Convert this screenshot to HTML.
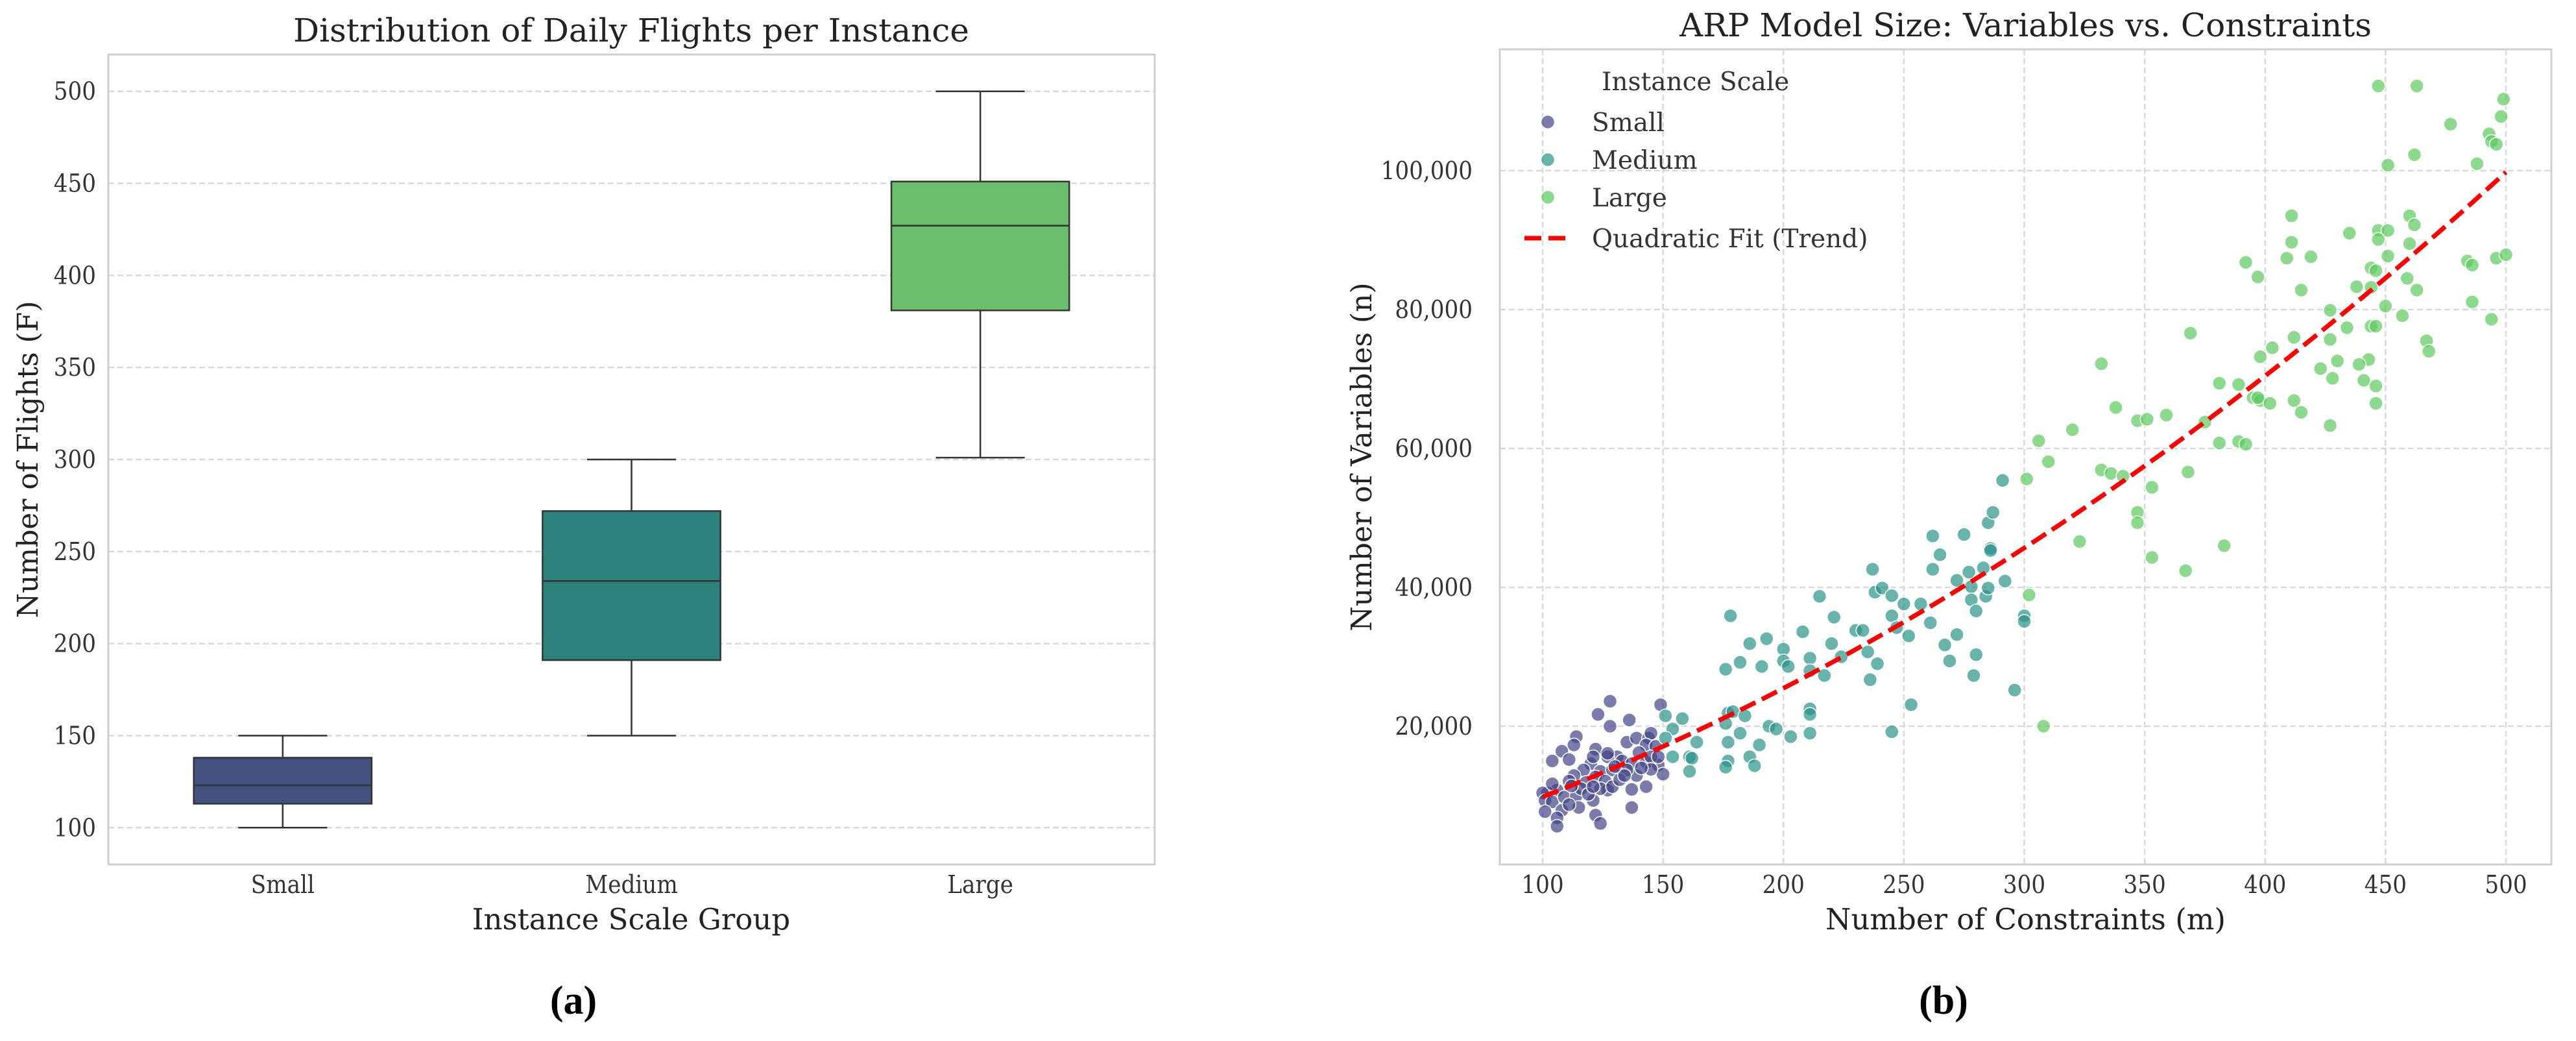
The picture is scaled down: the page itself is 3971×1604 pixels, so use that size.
<!DOCTYPE html>
<html><head><meta charset="utf-8"><style>
html,body{margin:0;padding:0;background:#fff;}
svg{display:block;font-family:"DejaVu Serif Condensed","DejaVu Serif",serif;font-stretch:condensed;}
.wide{font-family:"DejaVu Serif",serif;font-stretch:normal;}
.lab{font-family:"Liberation Serif",serif;font-stretch:normal;}
</style></head><body>
<svg id="fig" width="3971" height="1604" viewBox="0 0 3971 1604" xmlns="http://www.w3.org/2000/svg">
<rect x="0" y="0" width="3971" height="1604" fill="#fff"/>
<g id="left"></g>
<g id="right"></g>
</svg>
<script>
// ---- Box plot data ----
const boxCats = ["Small","Medium","Large"];
const boxMin = [100,150,301];
const boxQ1 = [113,191,381];
const boxMed = [123,234,427];
const boxQ3 = [138,272,451];
const boxMax = [150,300,500];
const boxColors = ["#42517f","#2c837d","#6abd6a"];
const boxYTicks = [100,150,200,250,300,350,400,450,500];

// ---- Scatter data ----
const smallX = [128,149,123,136,128,114,113,108,111,104,135,139,144,145,143,147,140,131,127,122,120,117,113,124,129,133,137,143,148,150,139,135,145,148,118,122,126,127,124,111,106,102,100,101,104,109,114,115,108,106,106,101,122,124,121,129,137,137,143,132,116,112,104,111,119,121,134,145,141,130,127,121];
const smallY = [23600,23100,21700,20900,20000,18500,17300,16400,15200,15000,17700,18300,18300,19000,17300,17100,16200,15600,15600,16700,14600,13700,12900,13500,13700,15000,14600,14800,14400,13100,12900,13700,15600,15600,11900,12700,12100,10800,11000,12100,10800,10400,10400,9300,9100,9800,10000,8300,7900,6800,5600,7700,7200,6000,9300,11300,10900,8300,11300,12300,11000,11400,11700,8700,10200,11300,12900,13800,14000,14200,16100,15600];
const medX = [178,176,182,186,191,193,200,200,202,208,215,211,211,220,221,224,217,230,233,235,237,238,241,239,236,245,245,250,247,252,257,253,245,262,262,265,261,267,269,272,272,275,277,278,278,280,279,280,283,284,285,285,286,286,287,291,292,296,300,300,151,158,154,164,161,162,161,151,154,177,179,176,177,177,176,184,182,186,188,190,194,197,203,211,211,211];
const medY = [35900,28200,29200,31900,28600,32600,31100,29400,28600,33600,38700,29800,28000,31900,35700,30000,27300,33800,33800,30700,42600,39300,39900,29000,26700,35900,38800,37600,34200,33000,37600,23100,19200,47400,42600,44700,34900,31700,29400,41000,33200,47600,42200,40100,38200,36600,27300,30300,42800,38700,39900,49300,45600,45300,50800,55400,40900,25200,35900,35100,21500,21100,19600,17700,15600,15400,13500,18300,15600,21900,22100,20400,17700,15000,14100,21500,19000,15600,14300,17300,20000,19600,18500,22500,21700,19000];
const largeX = [447,463,499,498,477,493,494,496,462,451,488,411,460,435,447,451,462,411,447,460,409,419,451,392,484,486,496,500,397,444,446,459,415,438,444,463,486,427,450,457,494,444,446,434,369,412,427,467,468,403,398,430,443,332,439,423,428,441,381,389,446,395,398,397,402,412,446,338,415,359,347,351,375,427,320,306,381,389,392,310,332,336,341,301,368,353,347,347,323,383,353,367,302,308];
const largeY = [112200,112200,110300,107800,106700,105300,104200,103800,102300,100800,101000,93500,93500,91000,91400,91400,92200,89700,90100,89500,87400,87600,87700,86800,87000,86400,87400,87900,84700,86000,85600,84500,82800,83300,83200,82800,81100,79900,80500,79100,78600,77600,77600,77400,76600,76000,75700,75500,74000,74500,73200,72600,72800,72200,72100,71500,70100,69800,69400,69200,69000,67300,66900,67300,66500,66900,66500,65900,65200,64800,64000,64200,63800,63300,62700,61100,60800,61000,60600,58100,56900,56400,56000,55600,56600,54400,50800,49300,46600,46000,44300,42400,38900,20000];
const scXTicks = [100,150,200,250,300,350,400,450,500];
const scYTicks = [20000,40000,60000,80000,100000];

const NS = "http://www.w3.org/2000/svg";
function mk(parent, tag, attrs, text){
  const e = document.createElementNS(NS, tag);
  for (const k in attrs) e.setAttribute(k, attrs[k]);
  if (text !== undefined) e.textContent = text;
  parent.appendChild(e);
  return e;
}
const L = document.getElementById('left');
const R = document.getElementById('right');
const TF = 38;

// ===== Left panel =====
const lx0=167, lx1=1780, ly0=84, ly1=1332;
const lyMin=80, lyMax=520;
function ly(v){ return ly1 - (v-lyMin)/(lyMax-lyMin)*(ly1-ly0); }
function lx(i){ return lx0 + (i+0.5)*(lx1-lx0)/boxCats.length; }
boxYTicks.forEach(t=>{
  const g = mk(L,'line',{x1:lx0,x2:lx1,y1:ly(t),y2:ly(t),stroke:'#d9d9d9','stroke-width':2.5,'stroke-dasharray':'9,5'});
  
  
  const tl = mk(L,'text',{x:148,y:ly(t)+13,'text-anchor':'end','font-size':TF,fill:'#333'},String(t));
  
  
});
const lframe = mk(L,'rect',{x:lx0,y:ly0,width:lx1-lx0,height:ly1-ly0,fill:'none',stroke:'#cfcfcf','stroke-width':3});


const bw = 0.51*(lx1-lx0)/boxCats.length;
boxCats.forEach((c,i)=>{
  const cx = lx(i);
  const g = mk(L,'g',{});
  
  
  mk(g,'line',{x1:cx,x2:cx,y1:ly(boxMax[i]),y2:ly(boxQ3[i]),stroke:'#333','stroke-width':2.5});
  mk(g,'line',{x1:cx,x2:cx,y1:ly(boxQ1[i]),y2:ly(boxMin[i]),stroke:'#333','stroke-width':2.5});
  mk(g,'line',{x1:cx-bw/4,x2:cx+bw/4,y1:ly(boxMax[i]),y2:ly(boxMax[i]),stroke:'#333','stroke-width':2.5});
  mk(g,'line',{x1:cx-bw/4,x2:cx+bw/4,y1:ly(boxMin[i]),y2:ly(boxMin[i]),stroke:'#333','stroke-width':2.5});
  mk(g,'rect',{x:cx-bw/2,y:ly(boxQ3[i]),width:bw,height:ly(boxQ1[i])-ly(boxQ3[i]),fill:boxColors[i],stroke:'#333','stroke-width':2.5});
  mk(g,'line',{x1:cx-bw/2,x2:cx+bw/2,y1:ly(boxMed[i]),y2:ly(boxMed[i]),stroke:'#333','stroke-width':2.5});
  const tl = mk(L,'text',{x:cx,y:1376,'text-anchor':'middle','font-size':TF,fill:'#333'},c);
  
  
});
let t;
t = mk(L,'text',{x:973,y:64,'class':'wide','text-anchor':'middle','font-size':50,fill:'#222'},'Distribution of Daily Flights per Instance');


t = mk(L,'text',{x:973,y:1432,'class':'wide','text-anchor':'middle','font-size':45,fill:'#222'},'Instance Scale Group');


t = mk(L,'text',{x:0,y:0,'class':'wide','text-anchor':'middle','font-size':44,fill:'#222',transform:'translate(58,708) rotate(-90)'},'Number of Flights (F)');


t = mk(L,'text',{x:884,y:1562,'class':'lab','text-anchor':'middle','font-size':62,'font-weight':'bold',fill:'#000'},'(a)');



// ===== Right panel =====
const rx0=2312, rx1=3933, ry0=76, ry1=1332;
const rcx=(rx0+rx1)/2;
function sx(v){ return 2378 + (v-100)/400*(3863-2378); }
function sy(v){ return 1119 - (v-20000)/80000*(1119-263); }
scXTicks.forEach(v=>{
  const g = mk(R,'line',{x1:sx(v),x2:sx(v),y1:ry0,y2:ry1,stroke:'#d9d9d9','stroke-width':2.5,'stroke-dasharray':'9,5'});
  
  
  const tl = mk(R,'text',{x:sx(v),y:1376,'text-anchor':'middle','font-size':TF,fill:'#333'},String(v));
  
  
});
scYTicks.forEach(v=>{
  const g = mk(R,'line',{x1:rx0,x2:rx1,y1:sy(v),y2:sy(v),stroke:'#d9d9d9','stroke-width':2.5,'stroke-dasharray':'9,5'});
  
  
  const tl = mk(R,'text',{x:2270,y:sy(v)+13,'text-anchor':'end','font-size':TF,fill:'#333'},v.toLocaleString('en-US'));
  
  
});
const rframe = mk(R,'rect',{x:rx0,y:ry0,width:rx1-rx0,height:ry1-ry0,fill:'none',stroke:'#cfcfcf','stroke-width':3});


function drawSeries(xs, ys, color, name){
  const g = mk(R,'g',{});
  
  
  xs.forEach((x,i)=>{
    const c = mk(g,'circle',{cx:sx(x),cy:sy(ys[i]),r:10.5,fill:color,'fill-opacity':0.7,stroke:'#fff','stroke-width':1.5});
    
    
  });
}
drawSeries(smallX, smallY, '#414487', 'small');
drawSeries(medX, medY, '#2a938a', 'medium');
drawSeries(largeX, largeY, '#5ccb5f', 'large');

// quadratic least squares fit
const AX = smallX.concat(medX, largeX), AY = smallY.concat(medY, largeY);
let S=[0,0,0,0,0], T=[0,0,0];
AX.forEach((x,i)=>{ const y=AY[i]; let p=1; for(let k=0;k<5;k++){S[k]+=p; if(k<3) T[k]+=p*y; p*=x;} });
const M=[[S[0],S[1],S[2],T[0]],[S[1],S[2],S[3],T[1]],[S[2],S[3],S[4],T[2]]];
for(let i=0;i<3;i++){ for(let j=i+1;j<3;j++){ const f=M[j][i]/M[i][i]; for(let k=i;k<4;k++) M[j][k]-=f*M[i][k]; } }
const co=[0,0,0];
for(let i=2;i>=0;i--){ let s=M[i][3]; for(let k=i+1;k<3;k++) s-=M[i][k]*co[k]; co[i]=s/M[i][i]; }
let d='';
for(let x=100;x<=500;x+=5){ const y=co[0]+co[1]*x+co[2]*x*x; d+=(x===100?'M':'L')+sx(x).toFixed(1)+','+sy(y).toFixed(1); }
const fit = mk(R,'path',{d:d,fill:'none',stroke:'#ff0000','stroke-width':7,'stroke-dasharray':'26,11'});



// legend
const lg = mk(R,'g',{});


t = mk(lg,'text',{x:2469,y:139,'class':'wide','font-size':39,fill:'#333'},'Instance Scale');


const legItems=[['Small','#414487',188],['Medium','#2a938a',246],['Large','#5ccb5f',304]];
legItems.forEach(it=>{
  const c = mk(lg,'circle',{cx:2386,cy:it[2],r:10.5,fill:it[1],'fill-opacity':0.7,stroke:'#fff','stroke-width':1.5});
  
  
  const tx = mk(lg,'text',{x:2454,y:it[2]+14,'class':'wide','font-size':39,fill:'#333'},it[0]);
  
  
});
const ll = mk(lg,'line',{x1:2350,x2:2420,y1:367,y2:367,stroke:'#ff0000','stroke-width':7,'stroke-dasharray':'26,11'});


t = mk(lg,'text',{x:2454,y:381,'class':'wide','font-size':39,fill:'#333'},'Quadratic Fit (Trend)');



t = mk(R,'text',{x:rcx,y:56,'class':'wide','text-anchor':'middle','font-size':50,fill:'#222'},'ARP Model Size: Variables vs. Constraints');


t = mk(R,'text',{x:rcx,y:1432,'class':'wide','text-anchor':'middle','font-size':45,fill:'#222'},'Number of Constraints (m)');


t = mk(R,'text',{x:0,y:0,'class':'wide','text-anchor':'middle','font-size':44,fill:'#222',transform:'translate(2114,704) rotate(-90)'},'Number of Variables (n)');


t = mk(R,'text',{x:2996,y:1562,'class':'lab','text-anchor':'middle','font-size':62,'font-weight':'bold',fill:'#000'},'(b)');


</script>
</body></html>
